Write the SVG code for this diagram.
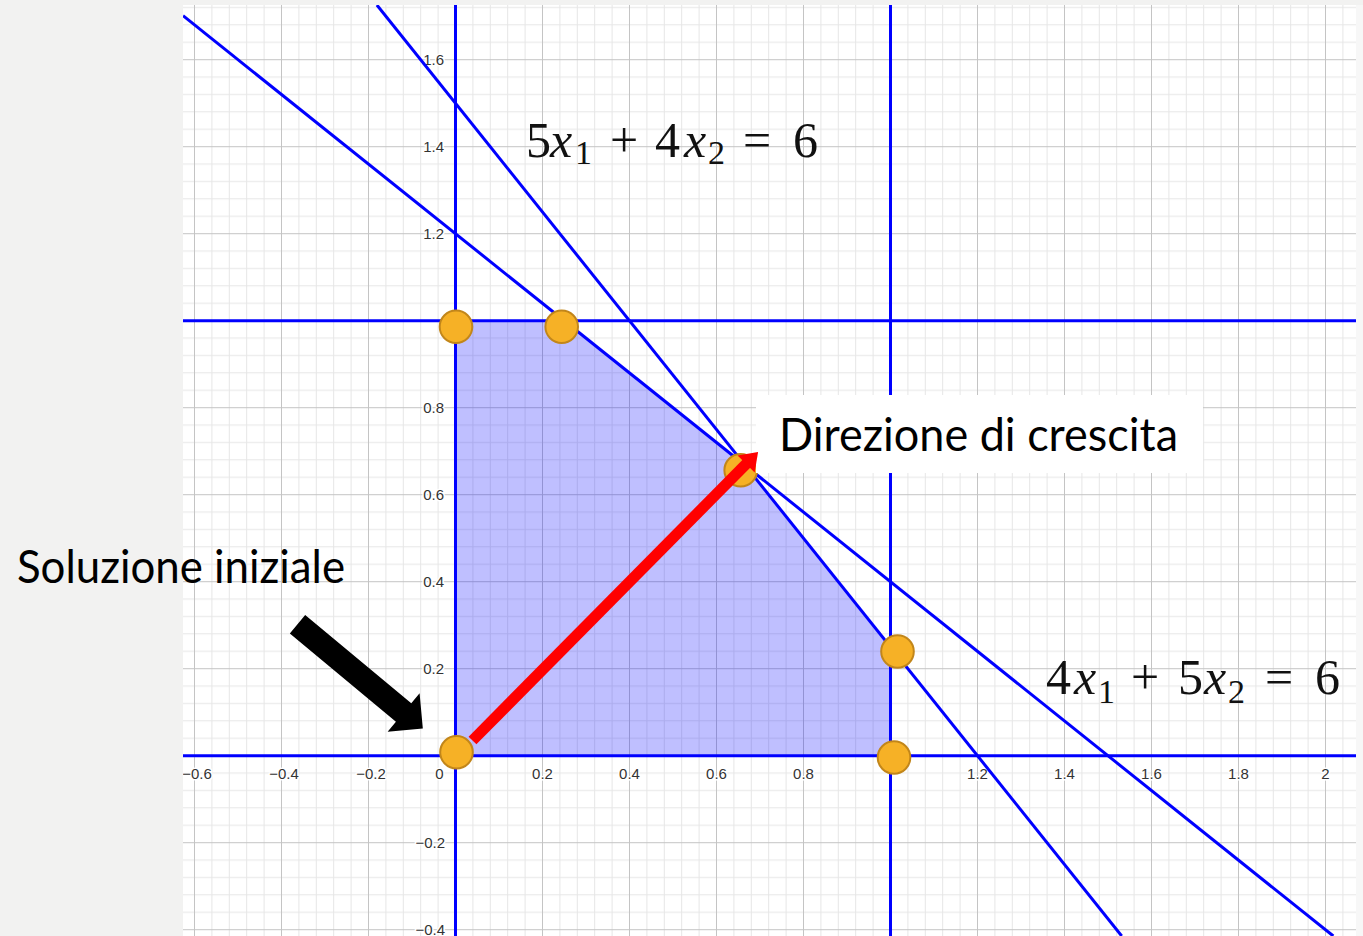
<svg xmlns="http://www.w3.org/2000/svg" width="1363" height="936" viewBox="0 0 1363 936">
<style>
.ax{font-family:"Liberation Sans",Arial,sans-serif;font-size:15px;fill:#333;paint-order:stroke;stroke:#fff;stroke-width:3px;stroke-linejoin:round}
.axx{text-anchor:middle}
.axy{text-anchor:end}
.bl{stroke:#0000ff;stroke-width:3;fill:none}
.pt{fill:#f6b126;stroke:#c2861a;stroke-width:2}
.lab{font-family:Lato,"Open Sans",sans-serif;font-size:46px;fill:#000}
.eq{font-family:"Liberation Serif","DejaVu Serif",serif;font-size:50px;fill:#111}
.eqi{font-style:italic}
.sub{font-size:34px}
</style>
<defs>
<pattern id="grid" patternUnits="userSpaceOnUse" x="412" y="712.2" width="87" height="87">
<path d="M8.7 0V87M26.1 0V87M60.9 0V87M78.3 0V87M0 8.7H87M0 26.1H87M0 60.9H87M0 78.3H87" stroke="#e6e6e6" stroke-width="1" fill="none"/>
<path d="M43.5 0V87M0 43.5H87" stroke="#c4c4c4" stroke-width="1" fill="none"/>
</pattern>
<clipPath id="plot"><rect x="183" y="5" width="1173" height="931"/></clipPath>
</defs>
<rect width="1363" height="936" fill="#f2f2f1"/>
<rect x="1356" y="5" width="7" height="931" fill="#f7f7f7"/>
<rect x="183" y="5" width="1173" height="931" fill="#ffffff"/>
<rect x="183" y="5" width="1173" height="931" fill="url(#grid)"/>
<g id="plot-content" clip-path="url(#plot)">
<polygon id="feasible-region" points="455.5,755.7 455.5,320.7 564.25,320.7 745.5,465.7 890.5,646.95 890.5,755.7" fill="#0000ff" fill-opacity="0.25"/>
<g id="axis-labels">
<text class="ax axx" x="197" y="778.5">−0.6</text>
<text class="ax axx" x="284" y="778.5">−0.4</text>
<text class="ax axx" x="371" y="778.5">−0.2</text>
<text class="ax axx" x="439.5" y="778.5">0</text>
<text class="ax axx" x="542.5" y="778.5">0.2</text>
<text class="ax axx" x="629.5" y="778.5">0.4</text>
<text class="ax axx" x="716.5" y="778.5">0.6</text>
<text class="ax axx" x="803.5" y="778.5">0.8</text>
<text class="ax axx" x="977.5" y="778.5">1.2</text>
<text class="ax axx" x="1064.5" y="778.5">1.4</text>
<text class="ax axx" x="1151.5" y="778.5">1.6</text>
<text class="ax axx" x="1238.5" y="778.5">1.8</text>
<text class="ax axx" x="1325.5" y="778.5">2</text>
<text class="ax axy" x="444" y="65.2">1.6</text>
<text class="ax axy" x="444" y="152.2">1.4</text>
<text class="ax axy" x="444" y="239.2">1.2</text>
<text class="ax axy" x="444" y="413.2">0.8</text>
<text class="ax axy" x="444" y="500.2">0.6</text>
<text class="ax axy" x="444" y="587.2">0.4</text>
<text class="ax axy" x="444" y="674.2">0.2</text>
<text class="ax axy" x="445" y="848.2">−0.2</text>
<text class="ax axy" x="445" y="935.2">−0.4</text>
</g>
<g id="constraint-lines">
<line class="bl" x1="455.5" y1="5" x2="455.5" y2="936"/>
<line class="bl" x1="890.5" y1="5" x2="890.5" y2="936"/>
<line class="bl" x1="183" y1="755.7" x2="1356" y2="755.7"/>
<line class="bl" x1="183" y1="320.7" x2="1356" y2="320.7"/>
<line class="bl" x1="376.9" y1="5" x2="1121.7" y2="936"/>
<line class="bl" x1="183" y1="15.7" x2="1333.3" y2="936"/>
</g>
</g>
<g id="vertices">
<circle id="v00" class="pt" cx="456.5" cy="752.3" r="16.3"/>
<circle id="v01" class="pt" cx="456" cy="326.7" r="16.3"/>
<circle id="v025" class="pt" cx="561.7" cy="326.7" r="16.3"/>
<circle id="v067" class="pt" cx="740.7" cy="470.3" r="16.3"/>
<circle id="v1025" class="pt" cx="897.5" cy="651.5" r="16.3"/>
<circle id="v10" class="pt" cx="894" cy="757.5" r="16.3"/>
</g>
<g id="label-direzione">
<rect x="756" y="395" width="447" height="78" fill="#ffffff"/>
<text class="lab" x="779" y="451" textLength="399" lengthAdjust="spacingAndGlyphs">Direzione di crescita</text>
</g>
<g id="label-soluzione">
<text class="lab" x="17" y="583" textLength="328" lengthAdjust="spacingAndGlyphs">Soluzione iniziale</text>
</g>
<g id="eq1">
<text class="eq" y="157"><tspan x="526">5</tspan><tspan class="eqi" x="550">x</tspan><tspan class="sub" x="575" dy="7">1</tspan><tspan x="610" dy="-7">+</tspan><tspan x="655">4</tspan><tspan class="eqi" x="684">x</tspan><tspan class="sub" x="708" dy="7">2</tspan><tspan x="743" dy="-7">=</tspan><tspan x="793">6</tspan></text>
</g>
<g id="eq2">
<text class="eq" y="693.5"><tspan x="1046">4</tspan><tspan class="eqi" x="1074">x</tspan><tspan class="sub" x="1098" dy="9">1</tspan><tspan x="1131" dy="-9">+</tspan><tspan x="1178">5</tspan><tspan class="eqi" x="1204">x</tspan><tspan class="sub" x="1228" dy="9">2</tspan><tspan x="1265" dy="-9">=</tspan><tspan x="1315">6</tspan></text>
</g>
<g id="connectors">
<g id="red-arrow" transform="translate(472.5,740.5) rotate(-45.3)">
<rect x="0" y="-5.5" width="392" height="11" fill="#ff0000"/>
<polygon points="389,-12 406,0 389,12" fill="#ff0000"/>
</g>
<g id="black-arrow" transform="translate(297.5,624.2) rotate(39.75)">
<polygon points="0,-12 138,-12 138,-25 163,0 138,25 138,12 0,12" fill="#000000"/>
</g>
</g>
</svg>
